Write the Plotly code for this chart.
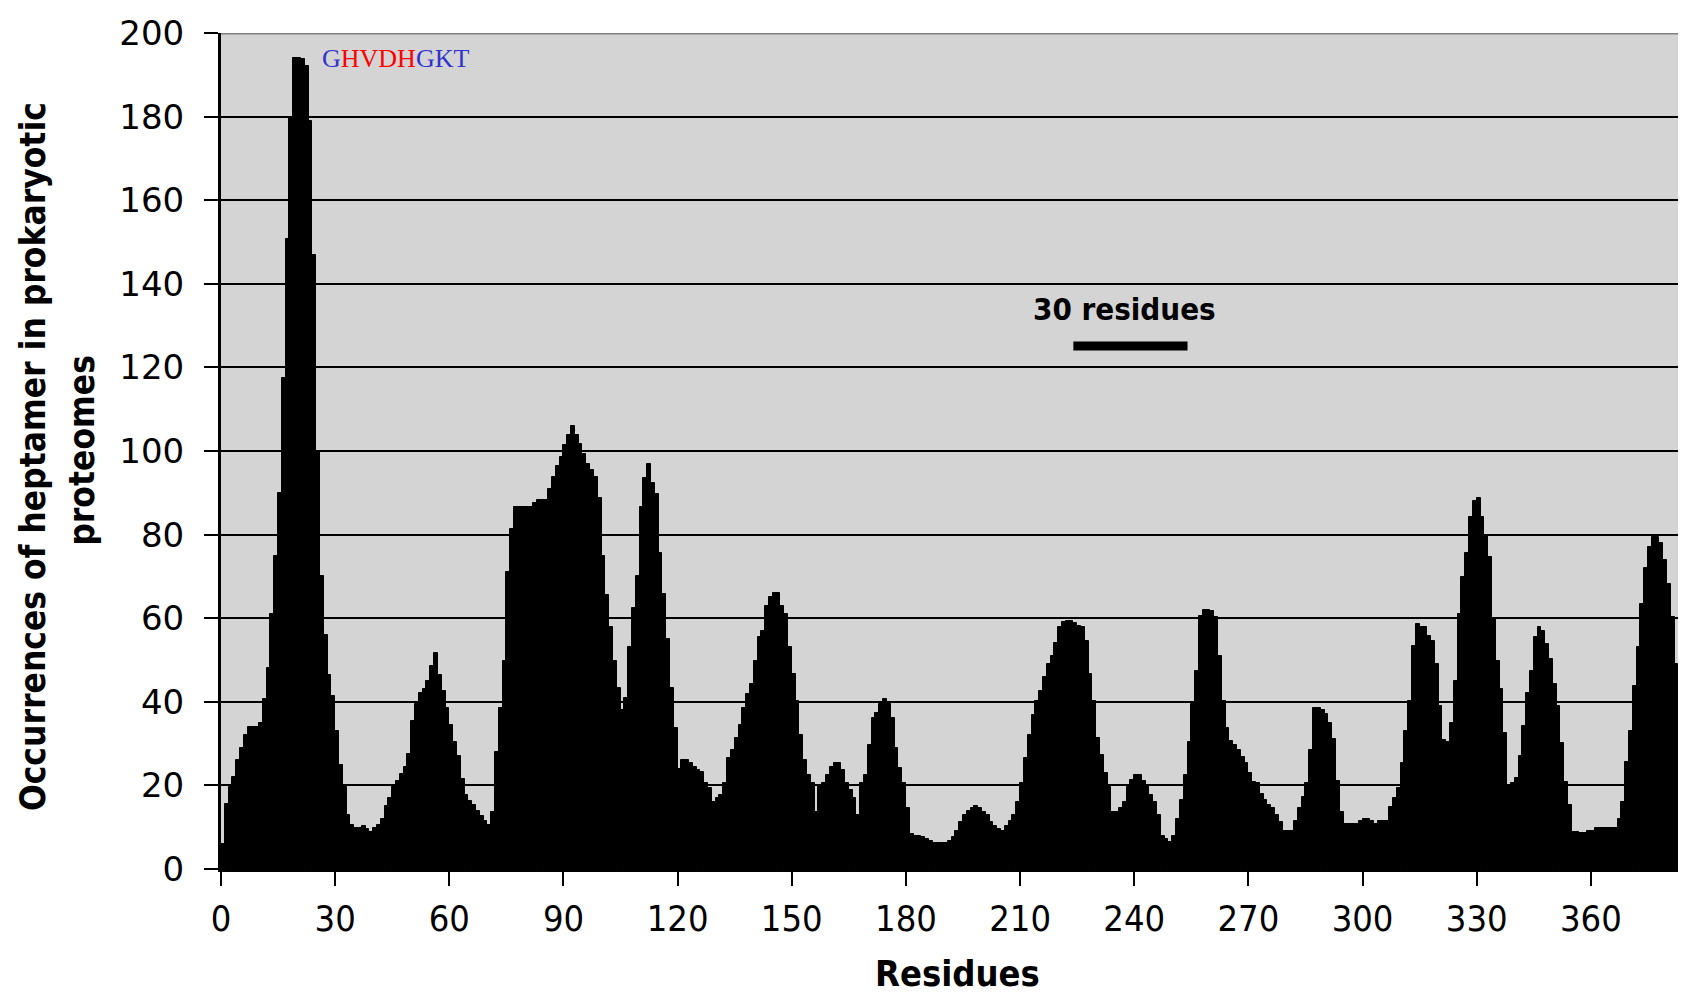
import plotly.graph_objects as go

# Occurrences of heptamer in prokaryotic proteomes, one value per residue
values = [
    6, 15.5, 19.5, 22, 26, 29, 32, 34, 34, 34,
    35, 40.7, 48, 61, 75, 90, 117.5, 150.7, 180, 194,
    194, 193.8, 192, 179, 147, 100, 70, 56, 46.4, 41.3,
    33, 25, 19.5, 13, 10.5, 9.7, 9.7, 10.2, 9.5, 8.9,
    9.7, 10.6, 12, 15, 17, 20, 21, 22.8, 24.5, 27.4,
    35.4, 39.5, 42, 43, 45, 48.6, 51.7, 46.4, 42.6, 38.4,
    34.4, 30.5, 27, 21.6, 17.6, 16.3, 15.2, 13.9, 12.8, 11.5,
    10.5, 13.7, 28, 38.5, 49.8, 71, 81.4, 86.7, 86.5, 86.5,
    86.7, 86.7, 87.5, 88.2, 88.2, 88.2, 91, 93.8, 96.4, 98.6,
    101.4, 103.9, 105.9, 103.9, 101.6, 99.2, 96.8, 95.4, 93.8, 88.8,
    75, 65.5, 57.8, 49.8, 43.4, 38, 41, 53, 62.5, 70,
    86.7, 93.6, 97, 92.4, 89.6, 75.5, 65.9, 55, 43.4, 33.7,
    24, 26, 26, 25.3, 24.5, 23.7, 23.1, 20.5, 19.3, 16,
    16.9, 17.7, 20.5, 26.5, 28.5, 31.3, 34.5, 38.5, 41.8, 44.2,
    49.8, 55.4, 57, 63, 65, 66, 66, 63, 61, 53,
    46.6, 40.2, 32.1, 26, 22.5, 20.5, 13.7, 20, 20.5, 22.5,
    24.5, 25.3, 25.3, 23.7, 20.5, 18.9, 16.9, 12.9, 20.5, 22.5,
    29.7, 36.1, 37.3, 39.4, 40.7, 39.4, 36.1, 28.9, 24.1, 20.5,
    14.5, 8.4, 8, 8, 7.6, 7.2, 6.8, 6.3, 6.3, 6.3,
    6.3, 6.6, 7.6, 9.2, 11.2, 12.9, 13.8, 14.5, 15.1, 14.5,
    13.7, 12.9, 11.2, 10.4, 9.6, 9.2, 10.4, 11.6, 12.9, 16,
    20.5, 26.5, 32.1, 36.9, 40.2, 42.6, 46, 49, 51, 54,
    57.8, 59, 59.4, 59.4, 58.8, 58.2, 57.8, 54.6, 46.6, 40.2,
    31.3, 27.3, 22.9, 19.7, 13.7, 13.7, 14.5, 16, 19.7, 21.3,
    22.5, 22.5, 21, 20, 17.7, 16, 12.9, 8, 7.1, 6.4,
    8, 12, 16.5, 22.5, 30.5, 39.4, 47.4, 60.6, 62, 62,
    61.8, 60.2, 51, 40.2, 33.7, 30.7, 29.7, 28.5, 26.9, 25.3,
    22.9, 20.9, 20.5, 18, 16.5, 15.3, 14.5, 12.9, 11.2, 9.2,
    9.2, 9.2, 11.6, 14.5, 17.3, 20.5, 28.5, 38.5, 38.5, 38,
    37, 35, 31, 21, 13.7, 10.8, 10.8, 10.8, 10.8, 11.6,
    12, 12, 11.6, 10.8, 11.4, 11.6, 11.6, 14.9, 16.9, 19.3,
    25.3, 32.9, 40.2, 53.4, 58.6, 58, 58, 55.8, 54.6, 49,
    39, 30.9, 30.5, 34.9, 45, 61, 69.9, 75.5, 84.3, 88,
    88.8, 84.3, 79.9, 74.7, 60, 49.8, 43, 32.5, 20, 20.5,
    21.7, 27, 34.1, 42.2, 47.4, 55.4, 57.8, 57, 53.8, 50.2,
    44.2, 39, 30.1, 20.9, 15.3, 8.8, 8.8, 8.6, 8.6, 9.2,
    9.2, 9.8, 9.8, 9.8, 9.8, 9.8, 9.8, 12, 16, 25.7,
    32.9, 43.8, 53, 63.5, 71.9, 77.1, 79.4, 79.4, 78.1, 73.9,
    68.3, 60.2, 49, 39.4, 28.1,
]
residues = list(range(len(values)))

x_ticks = list(range(0, 361, 30))
y_ticks = list(range(0, 201, 20))

motif_parts = [("G", "#3333cc"), ("HVDH", "#ff0000"), ("GKT", "#3333cc")]
scale_bar_start = 224
scale_bar_length = 30

COND = "DejaVu Sans Condensed, Liberation Sans Narrow, DejaVu Sans, sans-serif"

fig = go.Figure()
fig.add_trace(go.Bar(
    x=residues, y=values, width=1, offset=0,
    marker=dict(color="black", line=dict(width=1, color="black")),
    showlegend=False, hoverinfo="x+y",
))

# the page body has an 8px margin: the figure is sized so its plot area lands where the reference's does
fig.update_layout(
    width=1678, height=986, autosize=False,
    margin=dict(l=213, r=0, t=25, b=125, pad=0),
    paper_bgcolor="white", plot_bgcolor="#d4d4d4",
    bargap=0,
    xaxis=dict(
        range=[0, 385], tickvals=x_ticks, ticktext=[str(v) for v in x_ticks],
        showgrid=False, zeroline=False,
        showline=True, linecolor="black", linewidth=3,
        ticks="outside", ticklen=14, tickwidth=2, tickcolor="black",
        ticklabelstandoff=2,
        tickfont=dict(family=COND, size=36, color="black"),
    ),
    yaxis=dict(
        range=[0, 200], tickvals=y_ticks, ticktext=[str(v) for v in y_ticks],
        showgrid=True, gridcolor="black", gridwidth=2,
        zeroline=False,
        showline=True, linecolor="black", linewidth=3,
        ticks="outside", ticklen=14, tickwidth=2, tickcolor="black",
        ticklabelstandoff=13,
        tickfont=dict(family="DejaVu Sans, sans-serif", size=34, color="black"),
    ),
)

# top border of the plot area (gray)
fig.add_shape(type="line", xref="paper", yref="y", x0=0, x1=1, y0=200, y1=200,
              line=dict(color="#808080", width=3), layer="above")

# scale bar
fig.add_shape(type="line", xref="x", yref="y",
              x0=scale_bar_start, x1=scale_bar_start + scale_bar_length,
              y0=125.1, y1=125.1, line=dict(color="black", width=9), layer="above")

motif_text = "".join(f'<span style="color:{c}">{s}</span>' for s, c in motif_parts)

fig.add_annotation(x=26, y=194, xref="x", yref="y", text=motif_text, showarrow=False,
                   xanchor="left", yanchor="middle",
                   font=dict(family="Liberation Serif, Times New Roman, serif", size=26))
fig.add_annotation(x=scale_bar_start + scale_bar_length / 2 - 1.5, y=134, xref="x", yref="y",
                   text="<b>30 residues</b>", showarrow=False, xanchor="center", yanchor="middle",
                   font=dict(family=COND, size=31, color="black"))
fig.add_annotation(x=-0.1283, y=0.4928, xref="paper", yref="paper",
                   text="<b>Occurrences of heptamer in prokaryotic</b>", showarrow=False,
                   textangle=-90, xanchor="center", yanchor="middle",
                   font=dict(family=COND, size=35, color="black"))
fig.add_annotation(x=-0.0945, y=0.501, xref="paper", yref="paper",
                   text="<b>proteomes</b>", showarrow=False,
                   textangle=-90, xanchor="center", yanchor="middle",
                   font=dict(family=COND, size=35, color="black"))
fig.add_annotation(x=0.5024, y=-0.125, xref="paper", yref="paper",
                   text="<b>Residues</b>", showarrow=False,
                   xanchor="center", yanchor="middle", borderpad=0,
                   font=dict(family=COND, size=36, color="black"))

fig.write_html("out.html")
